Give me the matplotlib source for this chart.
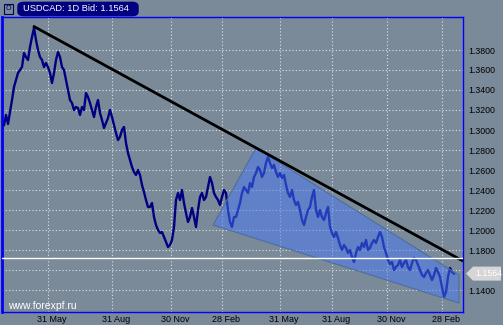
import numpy as np
import matplotlib
matplotlib.use("Agg")
import matplotlib.pyplot as plt
from matplotlib.patches import Polygon, FancyBboxPatch, Rectangle
from matplotlib.transforms import ScaledTranslation

# ---- data ----
# USDCAD daily bid, one value every 2nd bar
price = [
    1.305, 1.315, 1.306, 1.318, 1.330, 1.343, 1.350, 1.357, 1.360, 1.363,
    1.377, 1.373, 1.370, 1.383, 1.393, 1.402, 1.390, 1.380, 1.373, 1.370,
    1.363, 1.367, 1.363, 1.357, 1.347, 1.357, 1.370, 1.378, 1.373, 1.363,
    1.360, 1.350, 1.340, 1.330, 1.327, 1.320, 1.323, 1.322, 1.315, 1.323,
    1.320, 1.337, 1.333, 1.327, 1.320, 1.313, 1.323, 1.330, 1.317, 1.310,
    1.302, 1.307, 1.312, 1.320, 1.313, 1.305, 1.297, 1.290, 1.293, 1.300,
    1.303, 1.287, 1.277, 1.270, 1.263, 1.258, 1.255, 1.260, 1.255, 1.245,
    1.238, 1.230, 1.223, 1.223, 1.227, 1.213, 1.205, 1.200, 1.197, 1.198,
    1.193, 1.188, 1.183, 1.185, 1.190, 1.203, 1.230, 1.237, 1.230, 1.240,
    1.227, 1.217, 1.208, 1.213, 1.222, 1.213, 1.203, 1.220, 1.233, 1.237,
    1.230, 1.233, 1.243, 1.253, 1.247, 1.237, 1.233, 1.230, 1.225, 1.233,
    1.240, 1.237, 1.220, 1.208, 1.203, 1.213, 1.213, 1.220, 1.227, 1.237,
    1.243, 1.240, 1.237, 1.247, 1.243, 1.253, 1.257, 1.263, 1.260, 1.253,
    1.257, 1.267, 1.273, 1.267, 1.262, 1.265, 1.258, 1.253, 1.257, 1.252,
    1.255, 1.245, 1.237, 1.233, 1.240, 1.230, 1.225, 1.228, 1.220, 1.210,
    1.205, 1.213, 1.220, 1.223, 1.233, 1.240, 1.220, 1.213, 1.220, 1.213,
    1.210, 1.217, 1.223, 1.203, 1.197, 1.193, 1.198, 1.192, 1.185, 1.180,
    1.185, 1.182, 1.177, 1.180, 1.173, 1.168, 1.177, 1.183, 1.180, 1.187,
    1.183, 1.190, 1.180, 1.182, 1.187, 1.190, 1.187, 1.193, 1.198, 1.193,
    1.183, 1.177, 1.170, 1.166, 1.168, 1.160, 1.163, 1.165, 1.170, 1.163,
    1.167, 1.170, 1.163, 1.160, 1.167, 1.172, 1.170, 1.165, 1.160, 1.155,
    1.153, 1.157, 1.160, 1.155, 1.150, 1.155, 1.162, 1.158, 1.153, 1.143,
    1.133, 1.138, 1.153, 1.162, 1.158, 1.1564,
]
bars = np.arange(len(price))

date_pos = [22, 54, 83.5, 109, 138, 164, 191.5, 219]
date_labels = ["31 May", "31 Aug", "30 Nov", "28 Feb",
               "31 May", "31 Aug", "30 Nov", "28 Feb"]

price_ticks = [1.14, 1.16, 1.18, 1.20, 1.22, 1.24, 1.26, 1.28,
               1.30, 1.32, 1.34, 1.36, 1.38]
price_labels = ["1.1400", "", "1.1800", "1.2000", "1.2200", "1.2400", "1.2600",
                "1.2800", "1.3000", "1.3200", "1.3400", "1.3600", "1.3800"]

# drawn objects
trend_x = [14.5, 229.5]
trend_y = [1.404, 1.169]
channel_x = [126, 227.5, 227.5, 104.5]
channel_y = [1.282, 1.155, 1.127, 1.205]
level = 1.172
last = 1.1564

# ---- figure ----
BG = "#7b8a99"
plt.rcParams["font.family"] = ["Liberation Sans", "DejaVu Sans"]

fig = plt.figure(figsize=(5.03, 3.25), dpi=100, facecolor=BG)
ax = fig.add_axes([2 / 503, 1 - 312 / 325, 461 / 503, 295 / 325], facecolor=BG)

ax.set_xlim(-1, 229.5)
ax.set_ylim(1.118, 1.413)

ax.plot(bars, price, color="#000080", lw=1.7, zorder=3)

# channel on top of the price line
ax.add_patch(Polygon(list(zip(channel_x, channel_y)), closed=True,
                     facecolor=(0.28, 0.47, 0.97, 0.5),
                     edgecolor="#4d6f9e", lw=0.8, zorder=4))

ax.plot(trend_x, trend_y, color="black", lw=2, zorder=5, solid_capstyle="butt")
ax.axhline(level, color="white", lw=1, zorder=5)

# grid
ax.set_yticks(price_ticks)
ax.set_yticklabels(price_labels)
ax.set_xticks(date_pos)
ax.set_xticklabels(date_labels)
ax.grid(True, color="#dde2e7", ls=(0, (1, 2)), lw=0.8, zorder=1)
ax.yaxis.tick_right()
ax.tick_params(axis="y", length=0, pad=4, labelsize=6.3, colors="black")
ax.tick_params(axis="x", length=0, pad=2, labelsize=6.5, colors="black")
for lab in ax.get_xticklabels():
    lab.set_transform(lab.get_transform() + ScaledTranslation(0.04, 0, fig.dpi_scale_trans))

for side in ["left", "right", "top", "bottom"]:
    ax.spines[side].set_color("#0000ff")
    ax.spines[side].set_linewidth(1.0)
ax.spines["left"].set_linewidth(2)

# watermark
ax.text(6 / 461, 1 - 306 / 295 + 17 / 295, "www.forexpf.ru", transform=ax.transAxes,
        color="white", fontsize=7.5, va="center", ha="left", zorder=6)

# title box
fig.patches.append(FancyBboxPatch((19 / 503, 1 - 15 / 325), 118 / 503, 12 / 325,
                                  boxstyle="round,pad=0.002,rounding_size=0.012",
                                  transform=fig.transFigure, facecolor="#000080",
                                  edgecolor="#000080"))
fig.text(23 / 503, 1 - 8.5 / 325, "USDCAD: 1D Bid: 1.1564", color="white",
         fontsize=6.7, va="center", ha="left")
fig.patches.append(Rectangle((4 / 503, 1 - 14 / 325), 9 / 503, 10 / 325,
                             transform=fig.transFigure, facecolor="none",
                             edgecolor="#000060", lw=0.8))
fig.text(8.5 / 503, 1 - 9 / 325, "\u01b1", color="#000060", fontsize=5.5,
         va="center", ha="center")

# last price marker
yl = (ax.transData.transform((0, last))[1])
ym = yl / 100 / 3.25
h = 7 / 325
fig.patches.append(Polygon([(466 / 503, ym), (473 / 503, ym + h), (501 / 503, ym + h),
                            (501 / 503, ym - h), (473 / 503, ym - h)], closed=True,
                           transform=fig.transFigure, facecolor="#d6d6d6",
                           edgecolor="none"))
fig.text(475 / 503, ym, "1.1564", color="white", fontsize=6.3, va="center", ha="left")

fig.savefig("out.png", dpi=100, facecolor=BG)
